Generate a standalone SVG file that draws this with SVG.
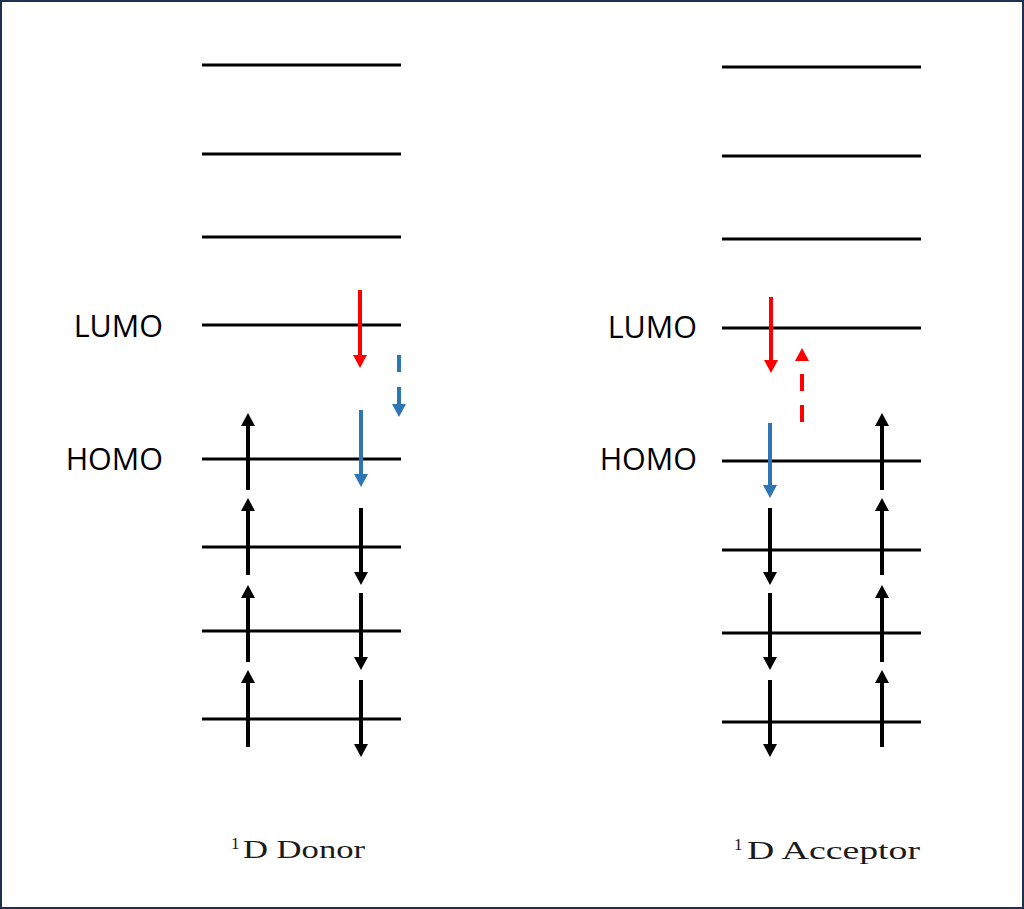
<svg xmlns="http://www.w3.org/2000/svg" width="1024" height="909" viewBox="0 0 1024 909">
<style>
.lvl{stroke:#000;stroke-width:3;}
.blk{stroke:#000;stroke-width:4;fill:none;}
.red{stroke:#ff0000;stroke-width:4;fill:none;}
.blu{stroke:#2e75b6;stroke-width:4;fill:none;}
.lbl{font-family:"Open Sans","Noto Sans",sans-serif;font-size:30.5px;fill:#000;text-anchor:end;}
.cap{font-family:"Liberation Serif","DejaVu Serif",serif;fill:#1a1a1a;}
</style>
<defs>
<marker id="hk" viewBox="0 0 13 14" markerWidth="13" markerHeight="14" markerUnits="userSpaceOnUse" refX="1" refY="7" orient="auto"><path d="M0,0L13,7L0,14z" fill="#000"/></marker>
<marker id="hr" viewBox="0 0 13 14" markerWidth="13" markerHeight="14" markerUnits="userSpaceOnUse" refX="1" refY="7" orient="auto"><path d="M0,0L13,7L0,14z" fill="#ff0000"/></marker>
<marker id="hb" viewBox="0 0 13 14" markerWidth="13" markerHeight="14" markerUnits="userSpaceOnUse" refX="1" refY="7" orient="auto"><path d="M0,0L13,7L0,14z" fill="#2e75b6"/></marker>
</defs>
<rect x="1" y="1" width="1022" height="907" fill="#fff" stroke="#1f3050" stroke-width="2"/>

<g id="donor">
<g id="donor-levels">
<line class="lvl" x1="202" y1="65" x2="401" y2="65"/>
<line class="lvl" x1="202" y1="154" x2="401" y2="154"/>
<line class="lvl" x1="202" y1="237" x2="401" y2="237"/>
<line class="lvl" x1="202" y1="325" x2="401" y2="325"/>
<line class="lvl" x1="202" y1="459" x2="401" y2="459"/>
<line class="lvl" x1="202" y1="547" x2="401" y2="547"/>
<line class="lvl" x1="202" y1="631" x2="401" y2="631"/>
<line class="lvl" x1="202" y1="719" x2="401" y2="719"/>
</g>
<text class="lbl" x="163" y="337">LUMO</text>
<text class="lbl" x="163" y="470">HOMO</text>
<text class="cap" x="231" y="849" font-size="17">1</text>
<text class="cap" x="243" y="858" font-size="26" textLength="122" lengthAdjust="spacingAndGlyphs">D Donor</text>
</g>

<g id="acceptor">
<g id="acceptor-levels">
<line class="lvl" x1="722" y1="67" x2="921" y2="67"/>
<line class="lvl" x1="722" y1="156" x2="921" y2="156"/>
<line class="lvl" x1="722" y1="239" x2="921" y2="239"/>
<line class="lvl" x1="722" y1="328" x2="921" y2="328"/>
<line class="lvl" x1="722" y1="461" x2="921" y2="461"/>
<line class="lvl" x1="722" y1="550" x2="921" y2="550"/>
<line class="lvl" x1="722" y1="633" x2="921" y2="633"/>
<line class="lvl" x1="722" y1="722" x2="921" y2="722"/>
</g>
<text class="lbl" x="697" y="338">LUMO</text>
<text class="lbl" x="697" y="470">HOMO</text>
<text class="cap" x="734" y="850" font-size="17">1</text>
<text class="cap" x="747" y="859" font-size="26" textLength="173" lengthAdjust="spacingAndGlyphs">D Acceptor</text>
</g>

<g id="connectors">
<line class="blk" x1="248" y1="490" x2="248" y2="425" marker-end="url(#hk)"/>
<line class="blk" x1="248" y1="575" x2="248" y2="510" marker-end="url(#hk)"/>
<line class="blk" x1="248" y1="662" x2="248" y2="597" marker-end="url(#hk)"/>
<line class="blk" x1="248" y1="747" x2="248" y2="682" marker-end="url(#hk)"/>
<line class="blk" x1="361" y1="508" x2="361" y2="573" marker-end="url(#hk)"/>
<line class="blk" x1="361" y1="593" x2="361" y2="658" marker-end="url(#hk)"/>
<line class="blk" x1="361" y1="680" x2="361" y2="745" marker-end="url(#hk)"/>
<line class="blu" x1="361" y1="410" x2="361" y2="475" marker-end="url(#hb)"/>
<line class="red" x1="360" y1="290" x2="360" y2="356" marker-end="url(#hr)"/>
<line class="blu" x1="399" y1="355" x2="399" y2="405" stroke-dasharray="17 15" marker-end="url(#hb)"/>
<line class="red" x1="771" y1="297" x2="771" y2="361" marker-end="url(#hr)"/>
<line class="red" x1="802" y1="422" x2="802" y2="360" stroke-dasharray="17 14" marker-end="url(#hr)"/>
<line class="blu" x1="770" y1="423" x2="770" y2="486" marker-end="url(#hb)"/>
<line class="blk" x1="770" y1="508" x2="770" y2="573" marker-end="url(#hk)"/>
<line class="blk" x1="770" y1="593" x2="770" y2="658" marker-end="url(#hk)"/>
<line class="blk" x1="770" y1="680" x2="770" y2="745" marker-end="url(#hk)"/>
<line class="blk" x1="882" y1="490" x2="882" y2="425" marker-end="url(#hk)"/>
<line class="blk" x1="882" y1="575" x2="882" y2="510" marker-end="url(#hk)"/>
<line class="blk" x1="882" y1="662" x2="882" y2="597" marker-end="url(#hk)"/>
<line class="blk" x1="882" y1="747" x2="882" y2="682" marker-end="url(#hk)"/>
</g>
</svg>
